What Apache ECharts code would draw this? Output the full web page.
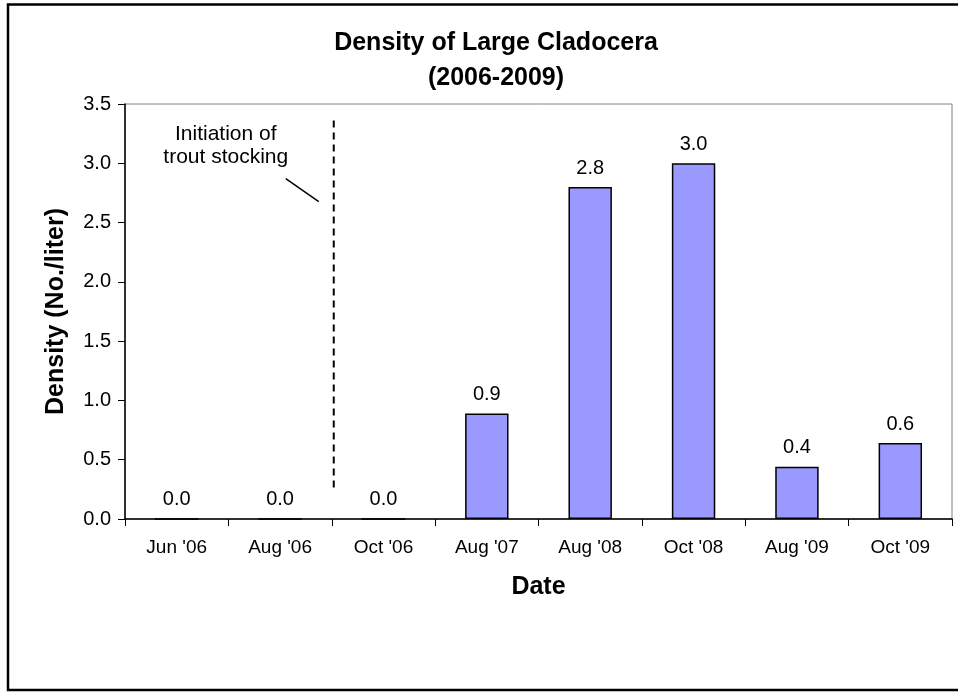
<!DOCTYPE html>
<html>
<head>
<meta charset="utf-8">
<title>Density of Large Cladocera</title>
<script src="https://cdn.jsdelivr.net/npm/echarts@6/dist/echarts.min.js"></script>
<style>
  html, body { margin: 0; padding: 0; background: #fff; }
  #chart { width: 958px; height: 698px; }
</style>
</head>
<body>
<div id="chart"></div>
<script>
// sampling dates
const dates = ["Jun '06", "Aug '06", "Oct '06", "Aug '07", "Aug '08", "Oct '08", "Aug '09", "Oct '09"];
// density, No./liter
const density = [0, 0, 0, 0.89, 2.8, 3.0, 0.44, 0.64];
const yTicks = [0, 0.5, 1, 1.5, 2, 2.5, 3, 3.5];

const font = "'Liberation Sans', Arial, sans-serif";

const chart = echarts.init(document.getElementById("chart"));

const options = {
  animation: false,
  backgroundColor: "#fff",
  title: {
    text: "Density of Large Cladocera\n(2006-2009)",
    left: 491,
    top: 21,
    textAlign: "center",
    textStyle: {
      fontFamily: font,
      fontSize: 25,
      fontWeight: "bold",
      color: "#000",
      lineHeight: 35,
    },
  },
  grid: {
    left: 125,
    right: 6,
    top: 104,
    bottom: 179,
    show: true,
    borderColor: "#808080",
    borderWidth: 1,
  },
  xAxis: {
    type: "category",
    data: dates,
    name: "Date",
    nameLocation: "middle",
    nameGap: 56,
    nameTextStyle: { fontFamily: font, fontSize: 25, fontWeight: "bold", color: "#000" },
    axisLine: { lineStyle: { color: "#000", width: 1.5 } },
    axisTick: { show: true, length: 7, lineStyle: { color: "#000" } },
    axisLabel: { fontFamily: font, fontSize: 19, color: "#000", margin: 19 },
    splitLine: { show: false },
  },
  yAxis: {
    type: "value",
    min: yTicks[0],
    max: yTicks[yTicks.length - 1],
    interval: 0.5,
    name: "Density (No./liter)",
    nameLocation: "middle",
    nameGap: 56,
    nameTextStyle: { fontFamily: font, fontSize: 25, fontWeight: "bold", color: "#000" },
    axisLine: { show: true, lineStyle: { color: "#000", width: 1.5 } },
    axisTick: { show: true, length: 7, lineStyle: { color: "#000" } },
    axisLabel: {
      fontFamily: font,
      fontSize: 20,
      color: "#000",
      margin: 14,
      formatter: (v) => v.toFixed(1),
    },
    splitLine: { show: false },
  },
  series: [
    {
      type: "bar",
      data: density,
      barCategoryGap: "58%",
      itemStyle: { color: "#9999FF", borderColor: "#000", borderWidth: 1.5 },
      label: {
        show: true,
        position: "top",
        distance: 9,
        fontFamily: font,
        fontSize: 20,
        color: "#000",
        formatter: (p) => p.value.toFixed(1),
      },
    },
  ],
};

chart.setOption(options);

// annotation: dashed line between Aug '06 and Oct '06, placed through the axes
const xA = chart.convertToPixel({ xAxisIndex: 0 }, dates[1]);
const xB = chart.convertToPixel({ xAxisIndex: 0 }, dates[2]);
const xLine = (xA + xB) / 2 + 2;
const yTop = chart.convertToPixel({ yAxisIndex: 0 }, 3.36);
const yBot = chart.convertToPixel({ yAxisIndex: 0 }, 0.24);

chart.setOption({
  graphic: [
    {
      type: "rect",
      shape: { x: 8, y: 4.5, width: 1200, height: 685.5 },
      style: { fill: "none", stroke: "#000", lineWidth: 2.5 },
      silent: true,
      z: 100,
    },
    {
      type: "line",
      shape: { x1: xLine, y1: yTop, x2: xLine, y2: yBot },
      style: { stroke: "#000", lineWidth: 2, lineDash: [7, 5] },
      silent: true,
    },
    {
      type: "text",
      x: xLine - 108,
      y: yTop + 2,
      style: {
        text: "Initiation of\ntrout stocking",
        fontFamily: font,
        fontSize: 21,
        lineHeight: 23,
        fill: "#000",
        align: "center",
      },
      silent: true,
    },
    {
      type: "line",
      shape: { x1: xLine - 48, y1: yTop + 58, x2: xLine - 15, y2: yTop + 81 },
      style: { stroke: "#000", lineWidth: 1.5 },
      silent: true,
    },
  ],
});

window.addEventListener("resize", () => chart.resize());
</script>
</body>
</html>
